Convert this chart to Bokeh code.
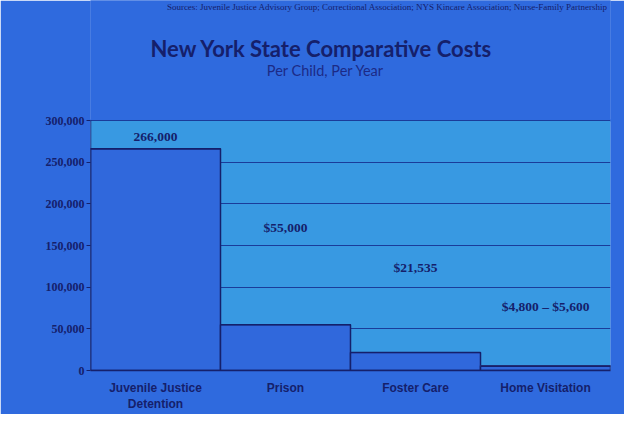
from bokeh.plotting import figure
from bokeh.models import ColumnDataSource, NumeralTickFormatter, FixedTicker, Range1d
from bokeh.core.properties import value
from bokeh.embed import file_html
from bokeh.resources import INLINE

categories = ["Juvenile Justice\nDetention", "Prison", "Foster Care", "Home Visitation"]
cost_low = [266000, 55000, 21535, 4800]
cost_high = [266000, 55000, 21535, 5600]
value_labels = ["266,000", "$55,000", "$21,535", "$4,800 – $5,600"]
y_ticks = [0, 50000, 100000, 150000, 200000, 250000, 300000]

# layout: vertical placement of the value labels (data units)
label_y = [280000, 172000, 124000, 77000]
# layout: heading positions (frame extends to canvas top; y above 300,000 is heading space)
Y_TOP = 444000
TITLE_POS = (1.777, 386400)
SUB_POS = (1.808, 360000)
SRC_POS = (3.985, 436800)

NAVY = "#15206b"
GRID = "#1a3c9a"
BG = "#2f6ade"
FRAME = "#3899e2"
BAR = "#3068dc"

p = figure(x_range=categories, y_range=Range1d(0, Y_TOP), width=624, height=414,
           title=None, output_backend="svg", toolbar_location=None,
           min_border_left=90, min_border_right=14, min_border_top=0, min_border_bottom=42)
p.background_fill_color = BG
p.border_fill_color = BG
p.outline_line_color = None

n = len(categories)
# heading area and plot-area panel behind the grid
p.quad(left=[-0.2], right=[n + 0.2], bottom=[y_ticks[-1]], top=[Y_TOP * 1.1],
       fill_color=BG, line_color=BG, line_width=3, level="image")
p.quad(left=[0], right=[n], bottom=[y_ticks[0]], top=[y_ticks[-1]],
       fill_color=FRAME, line_color=None, level="image")

src = ColumnDataSource(dict(cat=categories, low=cost_low, high=cost_high,
                            lab=value_labels, ly=label_y))
p.vbar(x="cat", top="high", width=1.0, source=src, fill_color=BAR,
       line_color=NAVY, line_width=1.5)
p.vbar(x="cat", bottom="low", top="high", width=1.0, source=src, fill_color="#a9c6f2",
       line_color=NAVY, line_width=1)
p.text(x="cat", y="ly", text="lab", source=src, text_align="center", text_baseline="middle",
       text_font_size="13.5px", text_font_style="bold", text_color=NAVY,
       text_font=value("Liberation Serif"))

# y axis line limited to the tick span
p.segment(x0=[0], y0=[y_ticks[0]], x1=[0], y1=[y_ticks[-1]], line_color=NAVY, line_width=1.5)

p.xgrid.grid_line_color = None
p.ygrid.grid_line_color = GRID
p.ygrid.grid_line_width = 1.2
p.ygrid.ticker = FixedTicker(ticks=y_ticks)

p.yaxis.ticker = FixedTicker(ticks=y_ticks)
p.yaxis.formatter = NumeralTickFormatter(format="0,0")
p.yaxis.major_label_text_font = "Liberation Serif"
p.yaxis.major_label_text_font_style = "bold"
p.yaxis.major_label_text_font_size = "12px"
p.yaxis.major_label_text_color = NAVY
p.yaxis.axis_line_color = None
p.yaxis.major_tick_line_color = NAVY
p.yaxis.major_tick_in = 0
p.yaxis.major_tick_out = 4
p.yaxis.major_label_standoff = 2
p.yaxis.minor_tick_line_color = None

p.xaxis.major_label_text_font = "Liberation Sans"
p.xaxis.major_label_text_font_style = "bold"
p.xaxis.major_label_text_font_size = "12px"
p.xaxis.major_label_text_color = NAVY
p.xaxis.axis_line_color = NAVY
p.xaxis.axis_line_width = 1.5
p.xaxis.major_tick_line_color = None
p.xaxis.major_label_standoff = 4

p.text(x=[TITLE_POS[0]], y=[TITLE_POS[1]], text=["New York State Comparative Costs"],
       text_align="center", text_baseline="middle", text_font=value("Lato"),
       text_font_style="bold", text_font_size="22px", text_color=NAVY)
p.text(x=[SUB_POS[0]], y=[SUB_POS[1]], text=["Per Child, Per Year"],
       text_align="center", text_baseline="middle", text_font=value("Lato"),
       text_font_style="normal", text_font_size="14.5px", text_color="#1c2a86")
p.text(x=[SRC_POS[0]], y=[SRC_POS[1]],
       text=["Sources: Juvenile Justice Advisory Group; Correctional Association; NYS Kincare Association; Nurse-Family Partnership"],
       text_align="right", text_baseline="middle", text_font=value("Liberation Serif"),
       text_font_style="normal", text_font_size="9px", text_color=NAVY)

open("out.html", "w").write(file_html(p, INLINE))
